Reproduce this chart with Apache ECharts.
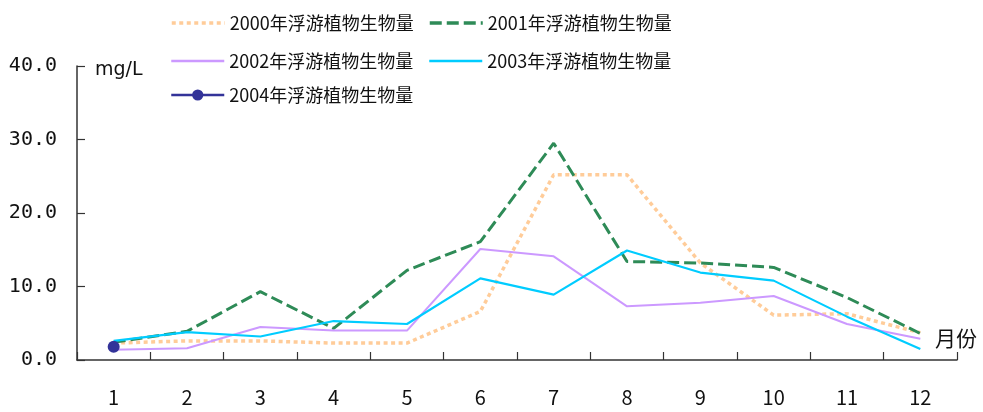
<!DOCTYPE html>
<html>
<head>
<meta charset="utf-8">
<script src="https://cdn.jsdelivr.net/npm/echarts@6/dist/echarts.min.js"></script>
<style>
  html, body { margin: 0; padding: 0; background: #fff; }
  #chart { width: 983px; height: 412px; }
</style>
</head>
<body>
<div id="chart"></div>
<script>
// Monthly phytoplankton biomass (mg/L), 2000–2004
const months = ['1', '2', '3', '4', '5', '6', '7', '8', '9', '10', '11', '12'];
const yTicks = [0, 10, 20, 30, 40];

const names = [
  '2000年浮游植物生物量',
  '2001年浮游植物生物量',
  '2002年浮游植物生物量',
  '2003年浮游植物生物量',
  '2004年浮游植物生物量'
];

const y2000 = [2.3, 2.6, 2.6, 2.3, 2.3, 6.6, 25.2, 25.2, 13.2, 6.1, 6.3, 3.7];
const y2001 = [2.4, 3.9, 9.3, 4.3, 12.2, 16.1, 29.5, 13.4, 13.2, 12.6, 8.5, 3.6];
const y2002 = [1.4, 1.6, 4.5, 4.0, 4.0, 15.1, 14.1, 7.3, 7.8, 8.7, 4.9, 2.9];
const y2003 = [2.6, 3.8, 3.2, 5.3, 4.9, 11.1, 8.9, 14.9, 11.9, 10.8, 5.9, 1.5];
const y2004 = [1.8, null, null, null, null, null, null, null, null, null, null, null];

const colors = ['#FFCC99', '#2E8B57', '#CC99FF', '#00CCFF', '#333399'];

const axisColor = '#333';
const cjkFont = '"Noto Sans CJK SC", "Noto Sans", sans-serif';

// one legend per entry so the two columns line up exactly
function legendAt(name, left, top, withMarker, lineWidth) {
  const lg = {
    data: [name],
    left: left,
    top: top,
    padding: 0,
    itemWidth: 53,
    itemHeight: 14,
    itemGap: 6,
    lineStyle: { width: lineWidth },
    textStyle: { fontSize: 18, color: '#111', fontFamily: cjkFont }
  };
  if (!withMarker) {
    lg.itemStyle = { color: 'rgba(0,0,0,0)', borderWidth: 0, opacity: 0 };
  }
  return lg;
}

const chart = echarts.init(document.getElementById('chart'), null, { renderer: 'canvas' });

chart.setOption({
  animation: false,
  backgroundColor: '#fff',
  color: colors,
  legend: [
    legendAt(names[0], 170, 14, false, 3.5),
    legendAt(names[1], 428, 14, false, 3.5),
    legendAt(names[2], 170, 52, false, 2.5),
    legendAt(names[3], 428, 52, false, 2.5),
    legendAt(names[4], 170, 86, true, 2.5)
  ],
  grid: { left: 77, right: 26, top: 66, bottom: 52 },
  xAxis: {
    type: 'category',
    data: months,
    boundaryGap: true,
    name: '月份',
    nameLocation: 'end',
    nameGap: -22,
    nameTextStyle: {
      fontSize: 21, color: '#111', fontFamily: cjkFont,
      align: 'left', verticalAlign: 'bottom', lineHeight: 44
    },
    axisLine: { show: true, lineStyle: { color: axisColor, width: 1.5 } },
    axisTick: { show: true, inside: true, length: 8, lineStyle: { color: axisColor, width: 1.2 } },
    axisLabel: { margin: 27, fontSize: 20, color: '#111', fontFamily: cjkFont },
    splitLine: { show: false }
  },
  yAxis: {
    type: 'value',
    min: yTicks[0],
    max: yTicks[yTicks.length - 1],
    interval: 10,
    name: 'mg/L',
    nameLocation: 'end',
    nameGap: -4,
    nameTextStyle: {
      fontSize: 19, color: '#111', fontFamily: '"DejaVu Sans", sans-serif',
      align: 'left', verticalAlign: 'middle', padding: [0, 0, 0, 18]
    },
    axisLine: { show: true, lineStyle: { color: axisColor, width: 1.5 } },
    axisTick: { show: true, inside: true, length: 8, lineStyle: { color: axisColor, width: 1.2 } },
    axisLabel: {
      margin: 20, fontSize: 20, color: '#111', fontFamily: '"DejaVu Sans Mono", monospace',
      formatter: v => v.toFixed(1)
    },
    splitLine: { show: false }
  },
  series: [
    {
      name: names[0], type: 'line', data: y2000, symbol: 'none',
      lineStyle: { color: colors[0], width: 3.5, type: [4, 3.5] }
    },
    {
      name: names[1], type: 'line', data: y2001, symbol: 'none',
      lineStyle: { color: colors[1], width: 3, type: [12, 5] }
    },
    {
      name: names[2], type: 'line', data: y2002, symbol: 'none',
      lineStyle: { color: colors[2], width: 2 }
    },
    {
      name: names[3], type: 'line', data: y2003, symbol: 'none',
      lineStyle: { color: colors[3], width: 2.2 }
    },
    {
      name: names[4], type: 'line', data: y2004, symbol: 'circle', symbolSize: 12,
      showSymbol: true, connectNulls: false,
      itemStyle: { color: colors[4] },
      lineStyle: { color: colors[4], width: 2.5 }
    }
  ]
});
</script>
</body>
</html>
